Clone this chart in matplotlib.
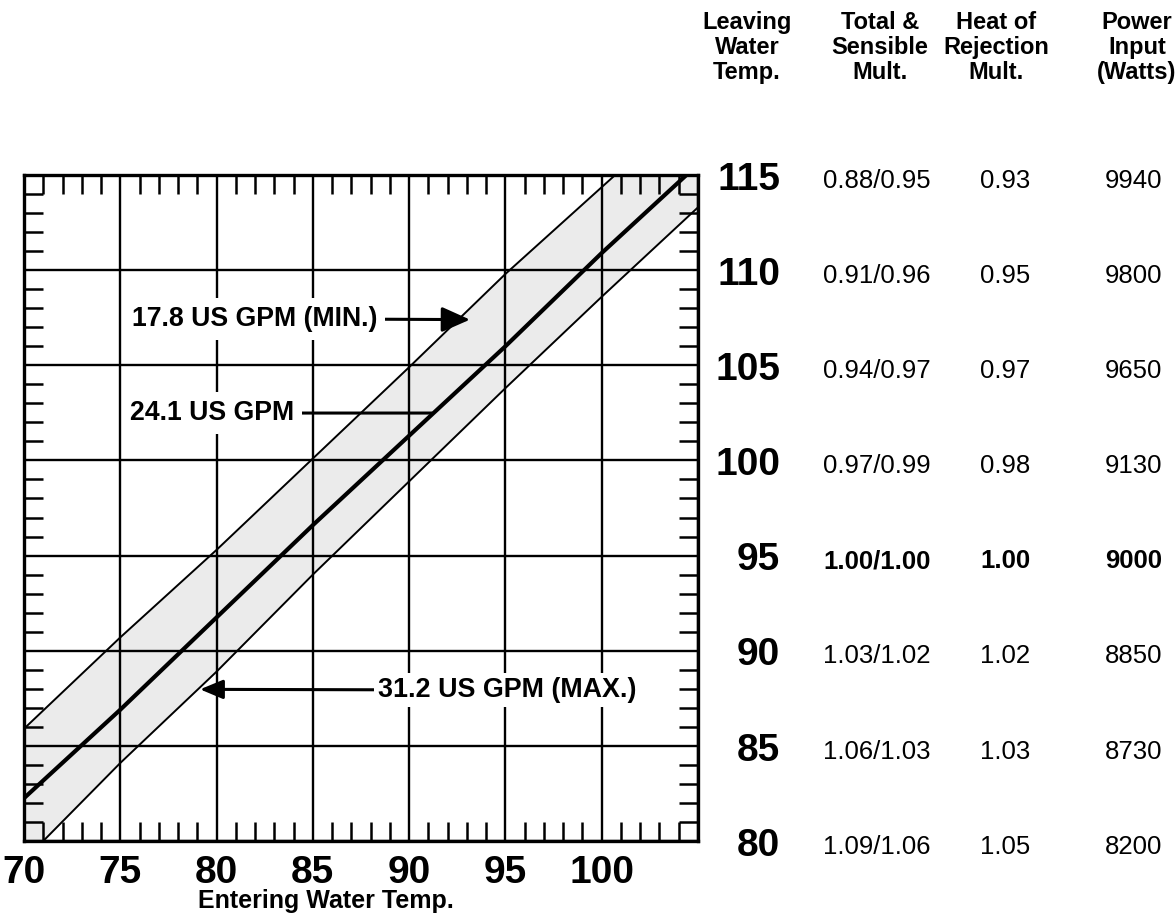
import matplotlib
matplotlib.use("Agg")
import matplotlib.pyplot as plt
from matplotlib.ticker import MultipleLocator, FixedLocator, FixedFormatter
from matplotlib.transforms import blended_transform_factory

plt.rcParams['font.family'] = ['Liberation Sans', 'DejaVu Sans']

# ---------------- data ----------------
ewt_ticks = [70, 75, 80, 85, 90, 95, 100, 105]
ewt_labels = ['70', '75', '80', '85', '90', '95', '100', '']
lwt_rows = [115, 110, 105, 100, 95, 90, 85, 80]
total_sens = ['0.88/0.95', '0.91/0.96', '0.94/0.97', '0.97/0.99',
              '1.00/1.00', '1.03/1.02', '1.06/1.03', '1.09/1.06']
heat_rej = ['0.93', '0.95', '0.97', '0.98', '1.00', '1.02', '1.03', '1.05']
power_w = ['9940', '9800', '9650', '9130', '9000', '8850', '8730', '8200']
headers = ['Leaving\nWater\nTemp.', 'Total &\nSensible\nMult.',
           'Heat of\nRejection\nMult.', 'Power\nInput\n(Watts)']

# flow lines (entering temp -> leaving temp)
min_x = [70, 75, 80, 85, 90, 95, 100.7]
min_y = [85.9, 90.7, 95.3, 100.1, 104.9, 109.8, 115]
nom_x = [70, 75, 80, 85, 90, 95, 100, 104.4]
nom_y = [82.25, 86.9, 91.75, 96.6, 101.3, 106.0, 110.9, 115]
max_x = [71, 75, 80, 85, 90, 95, 100, 105]
max_y = [80, 84.1, 88.9, 94.0, 98.9, 103.8, 108.6, 113.3]

label_min = '17.8 US GPM (MIN.)'
label_nom = '24.1 US GPM'
label_max = '31.2 US GPM (MAX.)'

# ---------------- figure ----------------
W, H = 1175, 913
fig = plt.figure(figsize=(W / 100, H / 100), dpi=100)
ax = fig.add_axes([24 / W, 72 / H, 674 / W, 666 / H])
ax.set_xlim(70, 105)
ax.set_ylim(80, 115)

# shaded band between min and max flow lines
poly_x = list(min_x) + [105] + list(max_x[::-1]) + [70]
poly_y = list(min_y) + [115] + list(max_y[::-1]) + [80]
ax.fill(poly_x, poly_y, color='#ebebeb', lw=0, zorder=1)

ax.plot(min_x, min_y, color='k', lw=1.4, zorder=3, solid_capstyle='butt')
ax.plot(max_x, max_y, color='k', lw=1.4, zorder=3, solid_capstyle='butt')
ax.plot(nom_x, nom_y, color='k', lw=3.0, zorder=3, solid_capstyle='butt')

# grid and ticks
ax.xaxis.set_major_locator(FixedLocator(ewt_ticks))
ax.xaxis.set_major_formatter(FixedFormatter(ewt_labels))
ax.yaxis.set_major_locator(MultipleLocator(5))
ax.xaxis.set_minor_locator(MultipleLocator(1))
ax.yaxis.set_minor_locator(MultipleLocator(1))
ax.grid(which='major', color='k', lw=1.7, zorder=2)
ax.tick_params(which='major', length=0, labelleft=False, pad=10)
ax.tick_params(which='minor', direction='in', length=14, width=1.8,
               top=True, right=True, bottom=True, left=True)
for lab in ax.get_xticklabels():
    lab.set_fontsize(28)
    lab.set_fontweight('bold')
for s in ax.spines.values():
    s.set_linewidth(2.4)

fig.text(326 / W, 5 / H, 'Entering Water Temp.', ha='center', va='baseline',
         fontsize=18, fontweight='bold')

# flow annotations
box = dict(boxstyle='square,pad=0.3', fc='white', ec='none')
ax.annotate(label_min, xy=(93.16, 107.4), xytext=(75.6, 107.45),
            ha='left', va='center', fontsize=19.2, fontweight='bold', bbox=box,
            arrowprops=dict(arrowstyle='-|>,head_length=0.9,head_width=0.4',
                            lw=2.2, color='k', shrinkA=0, shrinkB=0),
            zorder=5)
ax.annotate(label_nom, xy=(91.18, 102.49), xytext=(75.5, 102.49),
            ha='left', va='center', fontsize=19.2, fontweight='bold', bbox=box,
            arrowprops=dict(arrowstyle='-', lw=2.2, color='k',
                            shrinkA=0, shrinkB=0),
            zorder=5)
ax.annotate(label_max, xy=(79.14, 87.97), xytext=(88.38, 87.93),
            ha='left', va='center', fontsize=19.4, fontweight='bold',
            bbox=dict(boxstyle='square,pad=0.15', fc='white', ec='none'),
            arrowprops=dict(arrowstyle='-|>,head_length=0.72,head_width=0.3',
                            lw=2.2, color='k', shrinkA=0, shrinkB=0),
            zorder=5)

# right-hand table
tr = blended_transform_factory(fig.transFigure, ax.transData)
col_hdr_x = [747, 880, 996, 1137]
for hx, htxt in zip(col_hdr_x, headers):
    fig.text(hx / W, 1 - 11 / H, htxt, ha='center', va='top', fontsize=17,
             fontweight='bold', linespacing=1.12)

for i, lwt in enumerate(lwt_rows):
    w = 'bold' if lwt == 95 else 'normal'
    ax.text(780 / W, lwt - 0.25, str(lwt), transform=tr, ha='right',
            va='center', fontsize=28, fontweight='bold', clip_on=False)
    ax.text(823 / W, lwt - 0.3, total_sens[i], transform=tr, ha='left',
            va='center', fontsize=18.5, fontweight=w, clip_on=False)
    ax.text(980 / W, lwt - 0.3, heat_rej[i], transform=tr, ha='left',
            va='center', fontsize=18.5, fontweight=w, clip_on=False)
    ax.text(1105 / W, lwt - 0.3, power_w[i], transform=tr, ha='left',
            va='center', fontsize=18.5, fontweight=w, clip_on=False)

fig.savefig('out.png', dpi=100)
